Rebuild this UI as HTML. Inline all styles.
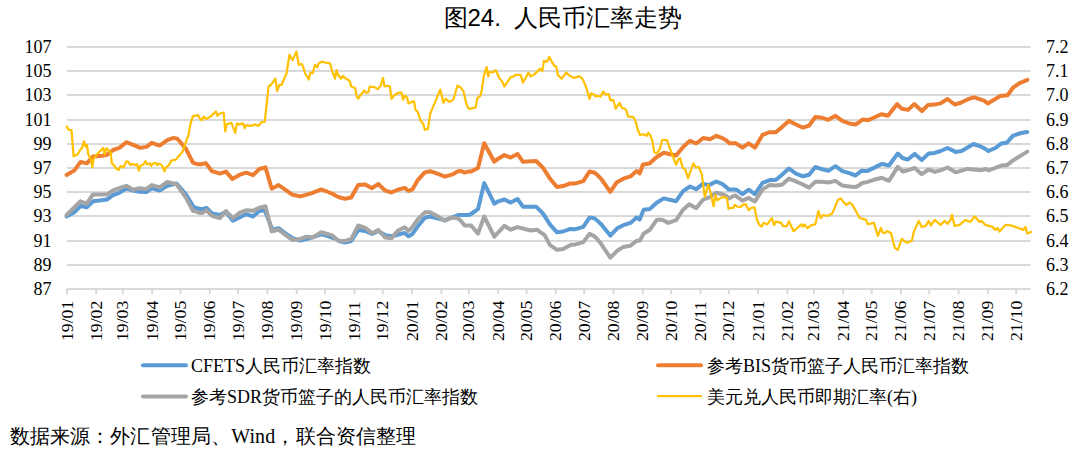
<!DOCTYPE html>
<html><head><meta charset="utf-8"><style>
html,body{margin:0;padding:0;background:#fff;}
body{width:1080px;height:452px;position:relative;overflow:hidden;font-family:"Liberation Serif",serif;color:#000;}
svg{position:absolute;left:0;top:0;}
.t{position:absolute;white-space:nowrap;line-height:1;}
.yl{position:absolute;right:1028.5px;height:0;white-space:nowrap;font-size:18px;line-height:0;}
.yl::before,.yr::before{content:"";}
.yr{position:absolute;left:1046px;height:0;white-space:nowrap;font-size:18px;line-height:0;}
.xl{position:absolute;top:340.6px;transform-origin:0 0;white-space:nowrap;font-size:17.7px;line-height:18px;}
.xl span{}
</style></head><body>
<svg width="1080" height="452" viewBox="0 0 1080 452">
<g stroke="#d9d9d9" stroke-width="2" fill="none"><line x1="67.0" y1="47" x2="1030.5" y2="47"/><line x1="67.0" y1="71" x2="1030.5" y2="71"/><line x1="67.0" y1="95" x2="1030.5" y2="95"/><line x1="67.0" y1="120" x2="1030.5" y2="120"/><line x1="67.0" y1="144" x2="1030.5" y2="144"/><line x1="67.0" y1="168" x2="1030.5" y2="168"/><line x1="67.0" y1="192" x2="1030.5" y2="192"/><line x1="67.0" y1="216" x2="1030.5" y2="216"/><line x1="67.0" y1="241" x2="1030.5" y2="241"/><line x1="67.0" y1="265" x2="1030.5" y2="265"/><line x1="67.0" y1="289" x2="1030.5" y2="289"/><line x1="67.00" y1="289" x2="67.00" y2="294.5"/><line x1="96.31" y1="289" x2="96.31" y2="294.5"/><line x1="122.78" y1="289" x2="122.78" y2="294.5"/><line x1="152.09" y1="289" x2="152.09" y2="294.5"/><line x1="180.46" y1="289" x2="180.46" y2="294.5"/><line x1="209.77" y1="289" x2="209.77" y2="294.5"/><line x1="238.13" y1="289" x2="238.13" y2="294.5"/><line x1="267.44" y1="289" x2="267.44" y2="294.5"/><line x1="296.75" y1="289" x2="296.75" y2="294.5"/><line x1="325.11" y1="289" x2="325.11" y2="294.5"/><line x1="354.42" y1="289" x2="354.42" y2="294.5"/><line x1="382.79" y1="289" x2="382.79" y2="294.5"/><line x1="412.10" y1="289" x2="412.10" y2="294.5"/><line x1="441.41" y1="289" x2="441.41" y2="294.5"/><line x1="468.82" y1="289" x2="468.82" y2="294.5"/><line x1="498.13" y1="289" x2="498.13" y2="294.5"/><line x1="526.50" y1="289" x2="526.50" y2="294.5"/><line x1="555.81" y1="289" x2="555.81" y2="294.5"/><line x1="584.17" y1="289" x2="584.17" y2="294.5"/><line x1="613.48" y1="289" x2="613.48" y2="294.5"/><line x1="642.79" y1="289" x2="642.79" y2="294.5"/><line x1="671.15" y1="289" x2="671.15" y2="294.5"/><line x1="700.46" y1="289" x2="700.46" y2="294.5"/><line x1="728.83" y1="289" x2="728.83" y2="294.5"/><line x1="758.14" y1="289" x2="758.14" y2="294.5"/><line x1="787.45" y1="289" x2="787.45" y2="294.5"/><line x1="813.92" y1="289" x2="813.92" y2="294.5"/><line x1="843.23" y1="289" x2="843.23" y2="294.5"/><line x1="871.59" y1="289" x2="871.59" y2="294.5"/><line x1="900.90" y1="289" x2="900.90" y2="294.5"/><line x1="929.27" y1="289" x2="929.27" y2="294.5"/><line x1="958.58" y1="289" x2="958.58" y2="294.5"/><line x1="987.89" y1="289" x2="987.89" y2="294.5"/><line x1="1016.25" y1="289" x2="1016.25" y2="294.5"/></g>
<g fill="none" stroke-linejoin="round" stroke-linecap="round">
<polyline stroke="#5b9bd5" stroke-width="4" points="66.6,216.5 74.4,212.2 80.6,206.0 86.8,207.2 93.0,201.3 99.2,200.6 106.9,199.5 113.1,195.1 119.3,192.8 126.3,188.6 133.2,190.5 139.4,191.7 146.4,192.0 151.8,188.2 159.6,190.5 167.3,185.8 176.6,183.5 185.9,194.4 193.6,206.7 195.0,207.7 201.6,209.2 206.6,208.0 212.0,213.4 219.8,215.0 226.0,211.9 232.9,220.7 239.9,217.3 246.1,214.2 253.1,216.5 259.3,211.1 264.7,210.3 272.4,229.7 278.6,228.2 284.8,232.8 292.6,238.2 300.3,240.6 309.6,238.2 321.2,234.4 328.1,236.1 332.6,237.9 335.0,238.2 338.8,241.0 345.0,242.5 351.2,241.0 358.2,230.1 365.2,230.9 372.1,234.0 378.3,230.9 385.3,235.1 391.5,236.3 397.7,234.8 404.7,232.9 408.5,236.3 412.4,234.0 417.8,226.3 424.8,217.7 430.2,216.5 438.0,218.5 444.9,220.1 451.9,217.7 458.1,215.0 461.0,215.0 468.0,215.0 470.3,214.5 478.0,209.1 484.2,183.1 494.3,203.7 498.2,201.3 504.4,199.5 510.6,202.6 517.5,199.0 522.9,206.7 536.1,206.7 543.1,213.7 550.1,224.6 557.0,232.3 563.2,231.5 570.2,228.9 575.6,229.2 583.3,226.9 589.5,217.6 594.0,218.2 596.5,219.9 601.4,224.5 610.3,235.6 617.2,228.3 623.4,225.2 630.4,222.9 636.6,217.5 639.7,219.5 643.6,209.7 649.8,208.9 656.7,202.7 663.7,198.4 676.1,201.2 683.1,191.1 690.0,186.5 696.2,189.2 702.4,184.1 709.4,184.9 716.3,181.5 722.5,184.1 727.0,187.9 728.7,189.6 730.1,189.4 734.0,189.6 736.3,189.7 742.5,194.1 748.7,189.7 754.9,194.1 762.6,182.9 769.6,180.1 775.8,180.1 782.0,174.7 788.9,168.5 795.9,173.6 802.9,176.3 809.1,174.7 815.3,167.0 822.2,169.3 828.4,170.8 835.4,166.2 842.4,171.2 849.3,173.2 855.5,175.5 860.0,171.9 861.7,170.8 867.5,170.9 873.9,167.9 881.9,163.9 888.9,165.5 897.8,153.5 902.8,158.3 907.8,159.5 914.8,153.9 921.7,159.9 928.7,153.5 934.7,152.9 940.6,151.0 947.6,148.0 955.6,151.9 961.6,151.0 973.5,144.0 979.5,146.0 984.5,148.4 988.4,151.0 995.4,148.0 1001.5,143.4 1006.9,142.7 1013.1,135.7 1021.1,133.0 1027.3,132.1"/>
<polyline stroke="#ed7d31" stroke-width="4" points="66.6,175.0 74.4,170.4 80.6,161.9 86.8,163.4 93.0,156.5 102.3,155.7 106.9,154.9 113.1,150.0 119.3,147.9 126.3,142.2 133.2,144.8 140.2,147.9 146.4,146.9 151.8,142.8 159.6,145.6 167.3,140.2 173.5,137.9 177.4,138.7 185.9,148.7 192.9,162.7 195.0,163.4 198.3,164.2 199.6,164.3 202.0,164.2 205.8,163.1 212.0,171.2 219.8,173.6 226.0,171.6 232.2,178.9 239.9,174.7 246.1,172.7 253.1,175.2 259.3,169.0 265.5,167.4 271.7,188.7 278.6,185.1 284.8,189.4 292.6,194.8 300.3,196.4 311.2,193.3 321.2,189.4 328.1,192.0 332.6,193.8 335.0,195.3 338.8,197.2 345.0,198.7 351.2,197.5 358.2,185.1 365.2,184.5 372.1,188.2 378.3,184.0 385.3,190.7 391.5,192.5 397.7,189.7 404.7,187.9 408.5,191.0 412.4,189.4 417.8,180.1 424.8,172.4 430.2,171.2 438.0,173.9 444.9,176.7 451.9,174.7 458.1,171.2 461.0,171.0 464.6,172.6 468.0,171.6 471.1,171.5 478.0,167.9 484.2,143.2 494.3,161.7 498.2,158.7 504.4,155.1 510.6,157.6 517.5,154.0 522.9,161.7 536.1,161.0 543.1,167.9 550.1,178.8 557.0,187.0 563.2,186.1 570.2,183.4 575.6,183.4 583.3,181.1 589.5,171.5 594.0,172.5 596.5,174.1 601.4,179.1 610.3,191.9 616.5,182.6 623.4,178.7 630.4,176.4 636.6,171.0 639.7,173.3 642.8,164.8 649.8,163.2 656.7,157.0 663.7,152.7 676.1,155.5 683.8,146.2 690.0,140.7 696.2,143.5 703.2,138.1 710.2,139.2 716.3,135.8 722.5,138.1 727.0,141.0 729.4,143.3 734.0,143.2 735.5,143.1 742.5,147.7 748.7,143.4 754.9,147.7 762.6,134.8 769.6,132.2 775.8,132.2 782.0,127.1 788.9,120.9 795.9,124.5 802.9,127.6 809.1,125.6 815.3,117.0 822.2,117.8 828.4,119.8 835.4,115.8 842.4,120.9 849.3,123.5 855.5,124.5 860.0,121.6 861.7,120.1 863.1,119.6 867.0,120.1 868.5,120.1 874.7,117.3 881.7,114.2 887.9,115.8 897.2,104.1 901.8,108.8 908.0,109.9 914.2,104.1 921.9,111.1 928.1,104.9 934.3,104.6 940.5,103.4 947.5,99.0 954.7,104.5 960.8,102.8 968.0,99.2 974.2,97.3 984.1,100.6 987.7,103.5 1000.3,96.0 1007.5,95.2 1013.0,87.7 1019.6,83.2 1027.4,79.9"/>
<polyline stroke="#a5a5a5" stroke-width="4" points="66.6,215.0 80.6,201.3 86.8,203.7 93.0,194.4 106.9,194.4 113.1,190.5 119.3,188.2 126.3,185.8 133.2,189.7 139.4,188.2 146.4,188.9 151.8,185.1 159.6,187.4 167.3,182.0 176.6,184.3 185.9,197.5 192.9,210.9 195.0,211.1 199.7,213.0 202.0,212.9 206.6,210.3 212.0,215.8 219.8,218.1 226.0,211.1 232.9,218.1 239.9,212.7 246.1,210.3 253.1,210.8 259.3,207.7 265.5,206.2 271.7,231.3 278.6,229.7 284.8,234.4 292.6,240.1 300.3,239.0 306.5,236.7 312.7,237.5 321.2,232.3 328.1,234.2 332.6,235.6 335.0,238.2 338.8,240.7 345.0,241.0 351.2,239.1 358.2,225.5 365.2,227.8 372.1,233.2 378.3,230.1 385.3,237.6 391.5,238.2 397.7,230.9 404.7,227.3 408.5,230.9 412.4,227.0 417.8,219.3 424.8,212.3 430.2,212.3 438.0,216.5 444.9,220.8 451.9,217.4 458.1,218.5 461.0,220.9 464.6,225.5 468.0,225.5 471.1,225.5 478.0,233.6 484.2,216.5 494.3,236.7 504.4,225.8 510.6,229.7 517.5,227.1 530.7,230.5 536.9,229.7 544.6,235.1 550.1,245.2 557.0,249.8 563.2,249.1 571.0,244.7 575.6,244.4 583.3,242.1 589.5,233.9 594.0,236.0 596.5,238.2 601.4,244.3 610.3,257.7 617.2,250.8 623.4,246.9 630.4,245.8 636.6,240.7 639.7,240.7 643.6,233.7 649.8,229.8 656.7,219.8 662.1,219.8 668.3,222.9 676.1,220.1 683.1,209.7 689.2,204.3 696.2,208.2 703.2,199.6 709.4,197.3 716.3,192.7 722.5,194.2 727.0,196.4 729.0,198.4 734.0,195.8 735.5,195.6 742.5,200.6 748.7,197.9 754.9,201.5 762.6,189.4 769.6,185.1 775.8,185.6 782.0,184.8 788.9,178.6 795.9,181.4 802.9,184.5 809.1,187.6 815.3,181.7 822.2,181.7 828.4,182.5 835.4,180.9 842.4,185.6 849.3,186.6 855.5,187.1 860.0,184.8 861.7,183.2 867.5,181.9 873.9,179.8 881.9,177.8 888.9,180.8 897.8,166.9 902.8,171.5 907.8,170.3 914.8,167.9 921.7,174.2 928.7,169.5 934.7,171.9 940.6,170.3 947.6,167.5 955.6,172.3 967.5,168.9 981.5,170.3 985.4,168.9 988.4,170.3 995.4,167.9 1001.4,165.5 1007.4,164.9 1013.1,160.4 1027.3,151.6"/>
<polyline stroke="#ffc000" stroke-width="2.2" points="66.9,126.6 68.1,129.0 69.9,130.2 71.5,130.2 73.6,156.4 75.4,155.2 77.2,154.6 78.7,152.4 80.3,149.7 82.1,147.9 83.9,141.2 85.7,146.7 87.0,144.8 88.2,154.0 90.6,158.8 92.4,167.3 93.7,158.2 98.5,152.7 103.4,147.9 104.6,154.6 106.4,148.5 108.9,150.3 110.7,152.7 111.9,163.7 114.3,165.5 116.2,168.6 118.6,170.0 120.4,166.1 123.5,167.3 126.5,161.3 128.4,161.9 130.2,164.9 132.7,163.8 134.4,165.1 137.1,164.2 138.8,170.8 140.2,166.0 143.3,164.6 145.5,161.1 147.3,164.6 149.9,163.3 151.2,166.0 152.6,163.8 156.1,162.9 157.4,165.1 158.8,163.8 160.5,164.2 162.3,166.0 164.5,171.3 165.8,167.7 168.9,165.1 171.6,160.4 175.6,159.8 179.1,155.8 182.2,152.3 184.9,145.0 187.1,138.5 188.2,136.3 190.5,123.9 192.9,116.2 195.0,115.8 198.2,115.2 199.6,118.2 202.0,120.3 203.5,116.6 206.6,118.9 210.5,116.6 215.9,111.5 217.5,115.8 219.8,113.5 223.7,112.7 225.2,131.3 226.7,124.4 231.4,122.8 235.3,132.9 236.8,123.6 239.9,124.4 243.0,123.3 244.6,128.2 246.1,125.1 250.8,125.9 255.4,124.4 258.5,125.9 261.6,122.0 264.7,122.0 268.6,86.5 270.9,84.9 275.5,78.7 277.1,91.1 279.4,84.9 281.7,84.9 284.1,78.7 286.4,74.1 289.5,54.7 292.6,60.1 296.4,51.6 298.8,64.8 301.9,64.0 303.4,67.9 305.0,73.3 308.8,79.5 310.4,72.5 312.7,73.3 315.0,64.8 317.3,67.1 318.9,63.2 322.0,61.7 328.0,63.2 330.0,63.2 332.0,70.6 335.0,78.7 336.5,70.2 338.1,74.8 341.2,78.7 342.7,75.9 345.0,77.9 349.7,81.0 351.2,86.5 355.1,88.0 356.7,96.5 358.2,98.5 361.3,94.2 364.4,90.3 365.9,92.7 368.3,92.3 369.8,86.5 374.5,87.2 377.6,89.2 380.7,85.7 383.0,77.9 384.5,86.5 387.6,85.7 389.9,86.5 391.5,98.9 394.6,95.0 398.5,92.7 401.6,92.7 403.1,99.6 404.7,95.8 407.0,97.3 408.5,103.5 411.6,101.9 414.0,101.2 415.5,109.7 417.8,112.0 420.9,121.3 423.2,123.7 424.8,129.8 427.9,129.1 430.2,113.6 440.3,89.6 443.4,102.7 445.7,98.9 449.6,101.9 453.4,99.6 455.0,94.2 457.3,85.7 460.4,87.2 463.4,91.1 466.1,102.7 468.0,107.8 469.5,108.9 472.6,108.1 475.7,107.4 477.3,98.1 480.4,95.8 481.9,89.6 483.8,76.0 486.6,67.1 488.1,76.4 489.7,71.7 492.7,72.5 495.8,70.2 499.7,78.7 502.0,81.0 504.4,86.5 507.5,81.8 510.6,77.2 513.7,76.4 515.2,74.8 520.6,74.8 522.9,82.6 526.0,77.2 528.4,72.5 530.7,76.4 534.6,74.1 540.0,68.7 542.3,71.0 543.9,60.9 547.0,61.7 549.3,56.7 550.8,60.1 554.3,65.9 556.2,66.3 557.8,74.8 561.7,78.7 566.3,72.5 569.4,75.6 574.1,77.9 578.7,76.4 581.0,77.2 583.3,80.3 586.4,88.0 589.5,98.9 591.1,93.4 594.5,94.7 595.5,96.3 598.1,95.8 600.6,96.6 603.3,91.6 605.6,94.7 608.7,94.2 610.3,100.1 613.4,100.1 615.7,108.7 619.6,102.9 621.9,107.9 625.0,108.7 626.5,111.0 628.1,116.4 633.5,117.2 635.8,121.8 637.4,128.8 640.1,135.0 643.6,134.2 646.7,135.8 648.2,132.7 650.1,135.0 652.1,140.0 654.4,152.4 656.7,153.2 659.8,149.3 662.1,140.0 666.8,140.0 671.4,152.4 676.1,164.8 678.4,159.4 680.0,158.0 682.7,167.7 685.3,169.5 688.0,178.3 693.3,163.3 695.9,167.7 698.6,166.8 701.7,173.9 704.8,196.9 708.3,184.5 711.0,194.2 713.6,206.3 715.4,195.1 717.2,200.4 720.7,197.8 724.2,196.9 727.0,198.3 728.5,208.8 729.6,208.4 730.9,208.0 733.2,208.0 734.7,204.9 737.1,206.5 740.9,207.2 742.5,204.9 745.6,204.1 748.7,210.3 751.0,208.0 754.5,207.4 757.2,220.4 759.5,225.1 761.8,226.7 763.4,222.8 767.3,224.4 771.9,218.2 774.2,225.1 775.8,221.7 781.2,222.8 782.8,225.9 786.6,226.4 788.9,221.3 793.6,231.3 801.3,224.4 802.9,226.7 804.4,224.4 807.5,228.2 811.4,225.1 815.3,224.4 818.4,211.1 820.7,218.1 823.0,215.0 827.7,215.8 832.3,213.4 837.7,200.3 840.8,198.4 843.2,201.8 846.3,204.9 849.3,202.6 852.4,204.9 859.7,218.0 863.3,218.9 866.0,219.9 868.0,224.3 873.9,222.9 877.9,235.8 880.9,227.9 882.9,232.9 885.4,232.9 886.9,230.9 890.9,232.9 894.8,247.8 897.8,249.8 901.8,238.8 906.8,242.8 911.8,240.8 913.8,231.9 918.7,220.9 921.7,226.9 925.7,225.9 928.7,220.9 930.7,225.5 934.7,219.9 940.6,224.9 944.6,220.9 947.6,223.9 950.6,219.9 952.0,214.9 954.6,225.9 959.6,224.9 965.5,219.9 970.5,221.9 974.5,216.3 979.5,221.9 981.5,220.9 985.4,224.9 992.4,226.9 995.4,229.9 997.4,227.9 999.4,231.5 1005.4,224.9 1011.3,225.5 1015.3,226.9 1023.3,229.9 1025.3,226.9 1027.3,233.5 1031.2,231.9"/>
</g>
<g stroke-linecap="round" fill="none">
<line x1="143" y1="365.3" x2="186" y2="365.3" stroke="#5b9bd5" stroke-width="4"/>
<line x1="143" y1="396.5" x2="186" y2="396.5" stroke="#a5a5a5" stroke-width="4"/>
<line x1="658" y1="365.3" x2="701" y2="365.3" stroke="#ed7d31" stroke-width="4"/>
<line x1="658" y1="396.2" x2="701" y2="396.2" stroke="#ffc000" stroke-width="2.2"/>
</g>
</svg>
<div class="yl" style="top:47.00px">107</div><div class="yl" style="top:71.20px">105</div><div class="yl" style="top:95.40px">103</div><div class="yl" style="top:119.60px">101</div><div class="yl" style="top:143.80px">99</div><div class="yl" style="top:168.00px">97</div><div class="yl" style="top:192.20px">95</div><div class="yl" style="top:216.40px">93</div><div class="yl" style="top:240.60px">91</div><div class="yl" style="top:264.80px">89</div><div class="yl" style="top:289.00px">87</div><div class="yr" style="top:47.00px">7.2</div><div class="yr" style="top:71.20px">7.1</div><div class="yr" style="top:95.40px">7.0</div><div class="yr" style="top:119.60px">6.9</div><div class="yr" style="top:143.80px">6.8</div><div class="yr" style="top:168.00px">6.7</div><div class="yr" style="top:192.20px">6.6</div><div class="yr" style="top:216.40px">6.5</div><div class="yr" style="top:240.60px">6.4</div><div class="yr" style="top:264.80px">6.3</div><div class="yr" style="top:289.00px">6.2</div><div class="xl" style="transform:rotate(-90deg);left:57.50px">19/01</div><div class="xl" style="transform:rotate(-90deg);left:86.81px">19/02</div><div class="xl" style="transform:rotate(-90deg);left:113.28px">19/03</div><div class="xl" style="transform:rotate(-90deg);left:142.59px">19/04</div><div class="xl" style="transform:rotate(-90deg);left:170.96px">19/05</div><div class="xl" style="transform:rotate(-90deg);left:200.27px">19/06</div><div class="xl" style="transform:rotate(-90deg);left:228.63px">19/07</div><div class="xl" style="transform:rotate(-90deg);left:257.94px">19/08</div><div class="xl" style="transform:rotate(-90deg);left:287.25px">19/09</div><div class="xl" style="transform:rotate(-90deg);left:315.61px">19/10</div><div class="xl" style="transform:rotate(-90deg);left:344.92px">19/11</div><div class="xl" style="transform:rotate(-90deg);left:373.29px">19/12</div><div class="xl" style="transform:rotate(-90deg);left:402.60px">20/01</div><div class="xl" style="transform:rotate(-90deg);left:431.91px">20/02</div><div class="xl" style="transform:rotate(-90deg);left:459.32px">20/03</div><div class="xl" style="transform:rotate(-90deg);left:488.63px">20/04</div><div class="xl" style="transform:rotate(-90deg);left:517.00px">20/05</div><div class="xl" style="transform:rotate(-90deg);left:546.31px">20/06</div><div class="xl" style="transform:rotate(-90deg);left:574.67px">20/07</div><div class="xl" style="transform:rotate(-90deg);left:603.98px">20/08</div><div class="xl" style="transform:rotate(-90deg);left:633.29px">20/09</div><div class="xl" style="transform:rotate(-90deg);left:661.65px">20/10</div><div class="xl" style="transform:rotate(-90deg);left:690.96px">20/11</div><div class="xl" style="transform:rotate(-90deg);left:719.33px">20/12</div><div class="xl" style="transform:rotate(-90deg);left:748.64px">21/01</div><div class="xl" style="transform:rotate(-90deg);left:777.95px">21/02</div><div class="xl" style="transform:rotate(-90deg);left:804.42px">21/03</div><div class="xl" style="transform:rotate(-90deg);left:833.73px">21/04</div><div class="xl" style="transform:rotate(-90deg);left:862.09px">21/05</div><div class="xl" style="transform:rotate(-90deg);left:891.40px">21/06</div><div class="xl" style="transform:rotate(-90deg);left:919.77px">21/07</div><div class="xl" style="transform:rotate(-90deg);left:949.08px">21/08</div><div class="xl" style="transform:rotate(-90deg);left:978.39px">21/09</div><div class="xl" style="transform:rotate(-90deg);left:1006.75px">21/10</div>
<div class="t" style="left:443.5px;top:6px;font-family:'Liberation Sans',sans-serif;font-size:24px;">图24.</div><div class="t" style="left:514px;top:6px;font-family:'Liberation Sans',sans-serif;font-size:24.2px;">人民币汇率走势</div>
<div class="t" style="left:191px;top:357px;font-size:18px;">CFETS人民币汇率指数</div>
<div class="t" style="left:191px;top:388px;font-size:18px;">参考SDR货币篮子的人民币汇率指数</div>
<div class="t" style="left:707px;top:357px;font-size:18px;">参考BIS货币篮子人民币汇率指数</div>
<div class="t" style="left:707px;top:388px;font-size:18px;">美元兑人民币即期汇率(右)</div>
<div class="t" style="left:9.5px;top:425.5px;font-size:20px;letter-spacing:0.15px;">数据来源：外汇管理局、Wind，联合资信整理</div>
</body></html>
